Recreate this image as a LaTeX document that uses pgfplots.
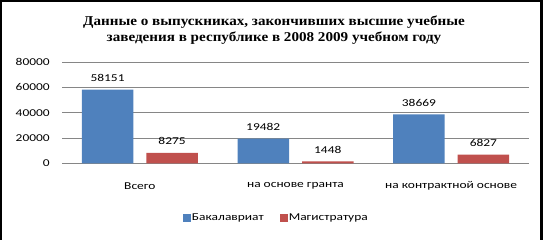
\documentclass[border=0pt]{standalone}
\usepackage{fontspec}
\setmainfont{Carlito}[FakeStretch=1.28]
\newfontfamily\titlefont{Liberation Serif Bold}[FakeStretch=1.12]
\usepackage{pgfplots}
\pgfplotsset{compat=1.18}
\definecolor{barblue}{RGB}{79,129,189}
\definecolor{barred}{RGB}{192,80,77}
\definecolor{gridgray}{RGB}{134,134,134}
\begin{document}
\begin{tikzpicture}
\useasboundingbox (0,0) rectangle (543pt,240pt);
\draw[line width=1.6pt] (1.2pt,0pt) -- (1.2pt,239pt);
\draw[line width=1.6pt] (0pt,239pt) -- (543pt,239pt);
\draw[line width=2.6pt] (541.7pt,0pt) -- (541.7pt,240pt);
\node[align=center, font=\titlefont\fontsize{13.5}{16}\selectfont, inner sep=0pt] at (274pt,209.5pt)
  {Данные о выпускниках, закончивших высшие учебные\\заведения в республике в 2008 2009 учебном году};
\begin{axis}[
  at={(62pt,76.7pt)}, anchor=south west,
  scale only axis, width=467pt, height=101.3pt,
  xmin=-0.5, xmax=2.5, ymin=0, ymax=80000,
  enlargelimits=false, clip=false,
  ytick={0,20000,40000,60000,80000},
  xtick={0,1,2},
  xticklabels={Всего, на основе гранта, на контрактной основе},
  ymajorgrids, grid style={draw=gridgray, line width=0.9pt},
  axis line style={draw=none},
  major tick length=0pt,
  scaled y ticks=false,
  /pgf/number format/.cd, fixed, 1000 sep={}, assume math mode=true, /pgfplots/.cd,
  tick label style={font=\fontsize{10.5}{12}\selectfont},
  yticklabel style={anchor=east, inner sep=0pt, xshift=-12pt},
  xticklabel style={anchor=center, inner sep=0pt, yshift=-22.7pt},
  ybar=13pt, bar width=51.5pt,
  nodes near coords,
  nodes near coords style={font=\fontsize{10.5}{12}\selectfont, inner sep=0pt, anchor=south, yshift=8pt, text=black},
  legend style={at={(0.458,-0.54)}, anchor=center, draw=none, fill=none,
    legend columns=2, font=\fontsize{10.5}{12}\selectfont,
    /tikz/every even column/.append style={column sep=15pt},
    nodes={inner sep=1pt}},
  legend image code/.code={\fill[#1, draw=none] (0pt,-4pt) rectangle (8pt,4pt);},
]
\addplot[fill=barblue, draw=none] coordinates {(0,58151) (1,19482) (2,38669)};
\addplot[fill=barred, draw=none] coordinates {(0,8275) (1,1448) (2,6827)};
\legend{Бакалавриат, Магистратура}
\end{axis}
\end{tikzpicture}
\end{document}
